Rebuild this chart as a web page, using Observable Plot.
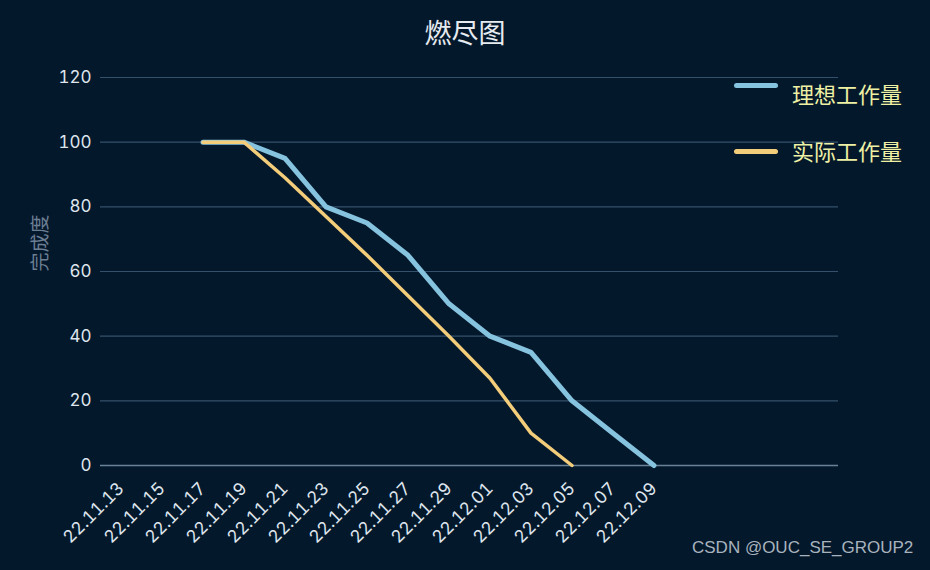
<!DOCTYPE html>
<html>
<head>
<meta charset="utf-8">
<script src="https://cdn.jsdelivr.net/npm/d3@7"></script>
<script src="https://cdn.jsdelivr.net/npm/@observablehq/plot@0.6"></script>
<style>
  html, body { margin: 0; padding: 0; background: #04182c; }
  #wrap { position: relative; width: 930px; height: 570px; overflow: hidden; background: #04182c; font-family: "Noto Sans", "Noto Sans CJK SC", sans-serif; }
  #wrap svg { position: absolute; left: 0; top: 0; }
  .title { position: absolute; left: 0; width: 930px; top: 13px; text-align: center; font-size: 27px; color: #e6ebf0; font-family: "Noto Sans CJK SC", sans-serif; line-height: 38px; }
  .legtx { position: absolute; left: 792px; font-family: "Noto Sans CJK SC", sans-serif; font-size: 22px; line-height: 30px; color: #eef0a4; }
  .sw { position: absolute; left: 734px; width: 44px; height: 5px; border-radius: 3px; }
  .mark { position: absolute; left: 692px; top: 538px; font-family: "Liberation Sans", Arial, sans-serif; font-size: 17px; color: #a9b3bd; }
</style>
</head>
<body>
<div id="wrap"></div>
<script>
// ---- data ----
const tickLabels = ["22.11.13","22.11.15","22.11.17","22.11.19","22.11.21","22.11.23","22.11.25","22.11.27","22.11.29","22.12.01","22.12.03","22.12.05","22.12.07","22.12.09"];
const idealDates = ["22.11.17","22.11.19","22.11.21","22.11.23","22.11.25","22.11.27","22.11.29","22.12.01","22.12.03","22.12.05","22.12.07","22.12.09"];
const idealValues = [100, 100, 95, 80, 75, 65, 50, 40, 35, 20, 10, 0];
const actualDates = ["22.11.17","22.11.19","22.11.21","22.11.23","22.11.25","22.11.27","22.11.29","22.12.01","22.12.03","22.12.05"];
const actualValues = [100, 100, 89, 77, 65, 52.5, 40, 27, 10, 0];
const yTicks = [0, 20, 40, 60, 80, 100, 120];
const seriesNames = ["理想工作量", "实际工作量"];
const colors = ["#86c3df", "#f3cd7a"];

const parse = s => { const [yy, mm, dd] = s.split(".").map(Number); return new Date(Date.UTC(2000 + yy, mm - 1, dd)); };
const fmt = d => d3.utcFormat("%y.%m.%d")(d);
const ideal = idealDates.map((d, i) => ({date: parse(d), value: idealValues[i]}));
const actual = actualDates.map((d, i) => ({date: parse(d), value: actualValues[i]}));
const tickDates = tickLabels.map(parse);
const first = tickDates[0];
const day = 86400000;
// category axis: 18 two-day slots, centered
const xDomain = [new Date(+first - day), new Date(+first + 35 * day)];

const chart = Plot.plot({
  width: 930,
  height: 570,
  marginTop: 77,
  marginBottom: 105,
  marginLeft: 100,
  marginRight: 92,
  style: { background: "transparent", color: "#dfe5ec", fontSize: "17px", fontFamily: "Inter, 'Noto Sans', sans-serif" },
  x: { type: "utc", domain: xDomain },
  y: { domain: [0, 120] },
  marks: [
    Plot.gridY(yTicks, { stroke: "#34506a", strokeOpacity: 1, strokeWidth: 1.2 }),
    Plot.ruleY([0], { stroke: "#6a8296", strokeWidth: 1.6 }),
    Plot.axisY(yTicks, { tickSize: 0, tickPadding: 9, label: null, fontSize: 17, fill: "#dfe5ec" }),
    Plot.axisX(tickDates, { tickSize: 0, tickPadding: 20, tickRotate: -45, tickFormat: fmt, label: null, fontSize: 17.5, fill: "#dfe5ec" }),
    Plot.text(["完成度"], { frameAnchor: "left", dx: -60, rotate: -90, fill: "#6d7f93", fontSize: 19, fontFamily: "Noto Sans CJK SC" }),
    Plot.line(ideal, { x: "date", y: "value", stroke: colors[0], strokeWidth: 5, strokeLinejoin: "round", strokeLinecap: "round" }),
    Plot.line(actual, { x: "date", y: "value", stroke: colors[1], strokeWidth: 3.5, strokeLinejoin: "round", strokeLinecap: "round" })
  ]
});

const wrap = document.getElementById("wrap");
wrap.appendChild(chart);

const title = document.createElement("div");
title.className = "title";
title.textContent = "燃尽图";
wrap.appendChild(title);

const textTops = [78, 135];
const swTops = [83, 149];
seriesNames.forEach((name, i) => {
  const sw = document.createElement("div");
  sw.className = "sw";
  sw.style.top = swTops[i] + "px";
  sw.style.background = colors[i];
  wrap.appendChild(sw);
  const tx = document.createElement("div");
  tx.className = "legtx";
  tx.style.top = textTops[i] + "px";
  tx.textContent = name;
  wrap.appendChild(tx);
});

const mark = document.createElement("div");
mark.className = "mark";
mark.textContent = "CSDN @OUC_SE_GROUP2";
wrap.appendChild(mark);
</script>
</body>
</html>
